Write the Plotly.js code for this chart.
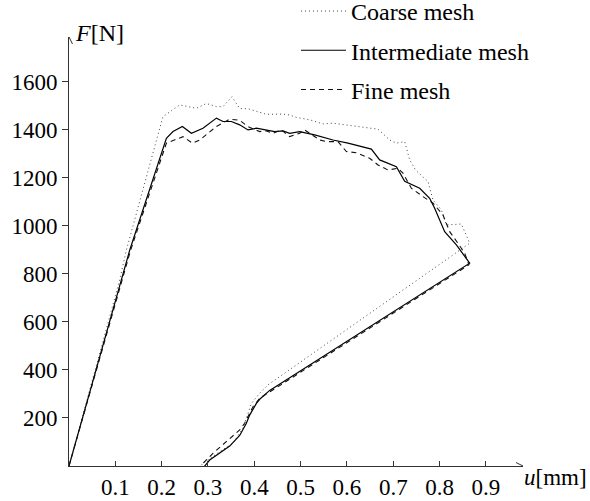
<!DOCTYPE html>
<html>
<head>
<meta charset="utf-8">
<script src="https://cdn.plot.ly/plotly-3.0.1.min.js"></script>
<style>html,body{margin:0;padding:0;background:#fff;}#chart{width:590px;height:501px;}</style>
</head>
<body>
<div id="chart"></div>
<script>
// ---- data ----
const seriesNames = ["Coarse mesh", "Intermediate mesh", "Fine mesh"];

const coarseU = [0, 0.1094, 0.1239, 0.2027, 0.2390, 0.2606, 0.2749, 0.2965, 0.3182, 0.3324, 0.3519, 0.3684, 0.3864, 0.4260, 0.4619, 0.4764, 0.4908, 0.5195, 0.5482, 0.5698, 0.6203, 0.6670, 0.6922, 0.7067, 0.7246, 0.7354, 0.7480, 0.7749, 0.7857, 0.8038, 0.8146, 0.8470, 0.8649, 0.4295, 0.4116, 0.3937, 0.3756, 0.3540, 0.3253, 0.2892, 0.2821];
const coarseF = [0, 775, 900, 1455, 1504, 1497, 1490, 1510, 1497, 1497, 1538, 1489, 1488, 1465, 1466, 1462, 1452, 1442, 1425, 1428, 1414, 1403, 1358, 1345, 1351, 1275, 1233, 1185, 1108, 1067, 1004, 1008, 928, 338, 303, 261, 158, 95, 60, 11, -5];

const interU = [0, 0.1312, 0.2102, 0.2245, 0.2447, 0.2642, 0.2892, 0.3182, 0.3324, 0.3505, 0.3684, 0.3864, 0.4045, 0.4260, 0.4440, 0.4619, 0.4764, 0.4979, 0.5303, 0.5698, 0.6022, 0.6527, 0.6706, 0.7067, 0.7246, 0.7570, 0.7785, 0.7893, 0.8109, 0.8362, 0.8649, 0.4332, 0.4116, 0.4045, 0.3900, 0.3829, 0.3684, 0.3469, 0.3253, 0.3037, 0.2858];
const interF = [0, 900, 1365, 1393, 1414, 1386, 1407, 1449, 1435, 1435, 1421, 1400, 1407, 1400, 1393, 1396, 1386, 1393, 1379, 1358, 1345, 1320, 1275, 1247, 1186, 1157, 1115, 1074, 976, 921, 845, 315, 278, 261, 212, 178, 127, 83, 53, 25, -17];

const fineU = [0, 0.1332, 0.2102, 0.2461, 0.2663, 0.2821, 0.3182, 0.3469, 0.3684, 0.3864, 0.4116, 0.4260, 0.4403, 0.4585, 0.4764, 0.4979, 0.5087, 0.5411, 0.5556, 0.5806, 0.5987, 0.6203, 0.6490, 0.6670, 0.6885, 0.7101, 0.7209, 0.7390, 0.7641, 0.7857, 0.8072, 0.8217, 0.8396, 0.8541, 0.8634, 0.4332, 0.4116, 0.3971, 0.3792, 0.3684, 0.3397, 0.3108, 0.2892, 0.2820];
const fineF = [0, 900, 1345, 1372, 1345, 1358, 1414, 1445, 1440, 1414, 1393, 1396, 1386, 1400, 1372, 1386, 1400, 1358, 1351, 1351, 1310, 1305, 1282, 1254, 1233, 1240, 1220, 1157, 1122, 1095, 1046, 976, 928, 886, 838, 307, 282, 247, 178, 150, 100, 53, 11, -8];

const xTicks = [0.1, 0.2, 0.3, 0.4, 0.5, 0.6, 0.7, 0.8, 0.9];
const xTickText = ["0.1", "0.2", "0.3", "0.4", "0.5", "0.6", "0.7", "0.8", "0.9"];
const yTicks = [200, 400, 600, 800, 1000, 1200, 1400, 1600];
const yTickText = ["200", "400", "600", "800", "1000", "1200", "1400", "1600"];

const xRange = [0, 0.98];
const yRange = [0, 1787];

// ---- styling ----
const FONT = "Liberation Serif";
const AX = "#333";

const traces = [
  {x: coarseU, y: coarseF, name: seriesNames[0], legendgroup: "a", mode: "lines",
   line: {color: "#444", width: 1, dash: "1px,3px"}},
  {x: interU, y: interF, name: seriesNames[1], legendgroup: "b", mode: "lines",
   line: {color: "#000", width: 1.2}},
  {x: fineU, y: fineF, name: seriesNames[2], legendgroup: "c", mode: "lines",
   line: {color: "#111", width: 1.1, dash: "5px,4px"}}
];

const layout = {
  width: 590, height: 501,
  margin: {l: 69, r: 67, t: 37, b: 35, autoexpand: false},
  paper_bgcolor: "#fff", plot_bgcolor: "#fff",
  font: {family: FONT, color: "#000", size: 23},
  showlegend: true,
  legend: {x: 0.50, y: 1.112, xanchor: "left", yanchor: "top", bgcolor: "rgba(0,0,0,0)",
           font: {family: FONT, size: 24, color: "#000"}, tracegroupgap: 5, itemwidth: 45},
  xaxis: {range: xRange, tickvals: xTicks, ticktext: xTickText, ticks: "inside", ticklen: 5,
          tickcolor: AX, tickwidth: 1, showline: true, linecolor: AX, linewidth: 1,
          showgrid: false, zeroline: false, tickfont: {family: FONT, size: 23, color: "#000"}},
  yaxis: {range: yRange, tickvals: yTicks, ticktext: yTickText, ticks: "outside", ticklen: 6,
          tickcolor: AX, tickwidth: 1, showline: true, linecolor: AX, linewidth: 1,
          showgrid: false, zeroline: false, tickfont: {family: FONT, size: 23, color: "#000"}},
  shapes: [
    {type: "path", xref: "x", yref: "y", xsizemode: "pixel", ysizemode: "pixel",
     xanchor: xRange[0], yanchor: yRange[1], path: "M-3.5,-7 L0,0 L3.5,-7",
     line: {color: AX, width: 1}},
    {type: "path", xref: "x", yref: "y", xsizemode: "pixel", ysizemode: "pixel",
     xanchor: xRange[1], yanchor: yRange[0], path: "M-7,-3.5 L0,0 L-7,3.5",
     line: {color: AX, width: 1}}
  ],
  annotations: [
    {xref: "paper", yref: "paper", x: 0.009, y: 1.009, xanchor: "left", yanchor: "middle",
     text: "<i>F</i>[N]", showarrow: false, font: {family: FONT, size: 24, color: "#000"}},
    {xref: "paper", yref: "paper", x: 0.998, y: -0.026, xanchor: "left", yanchor: "middle",
     text: "<i>u</i>[mm]", showarrow: false, font: {family: FONT, size: 23, color: "#000"}}
  ]
};

Plotly.newPlot("chart", traces, layout, {staticPlot: true, displayModeBar: false});
</script>
</body>
</html>
